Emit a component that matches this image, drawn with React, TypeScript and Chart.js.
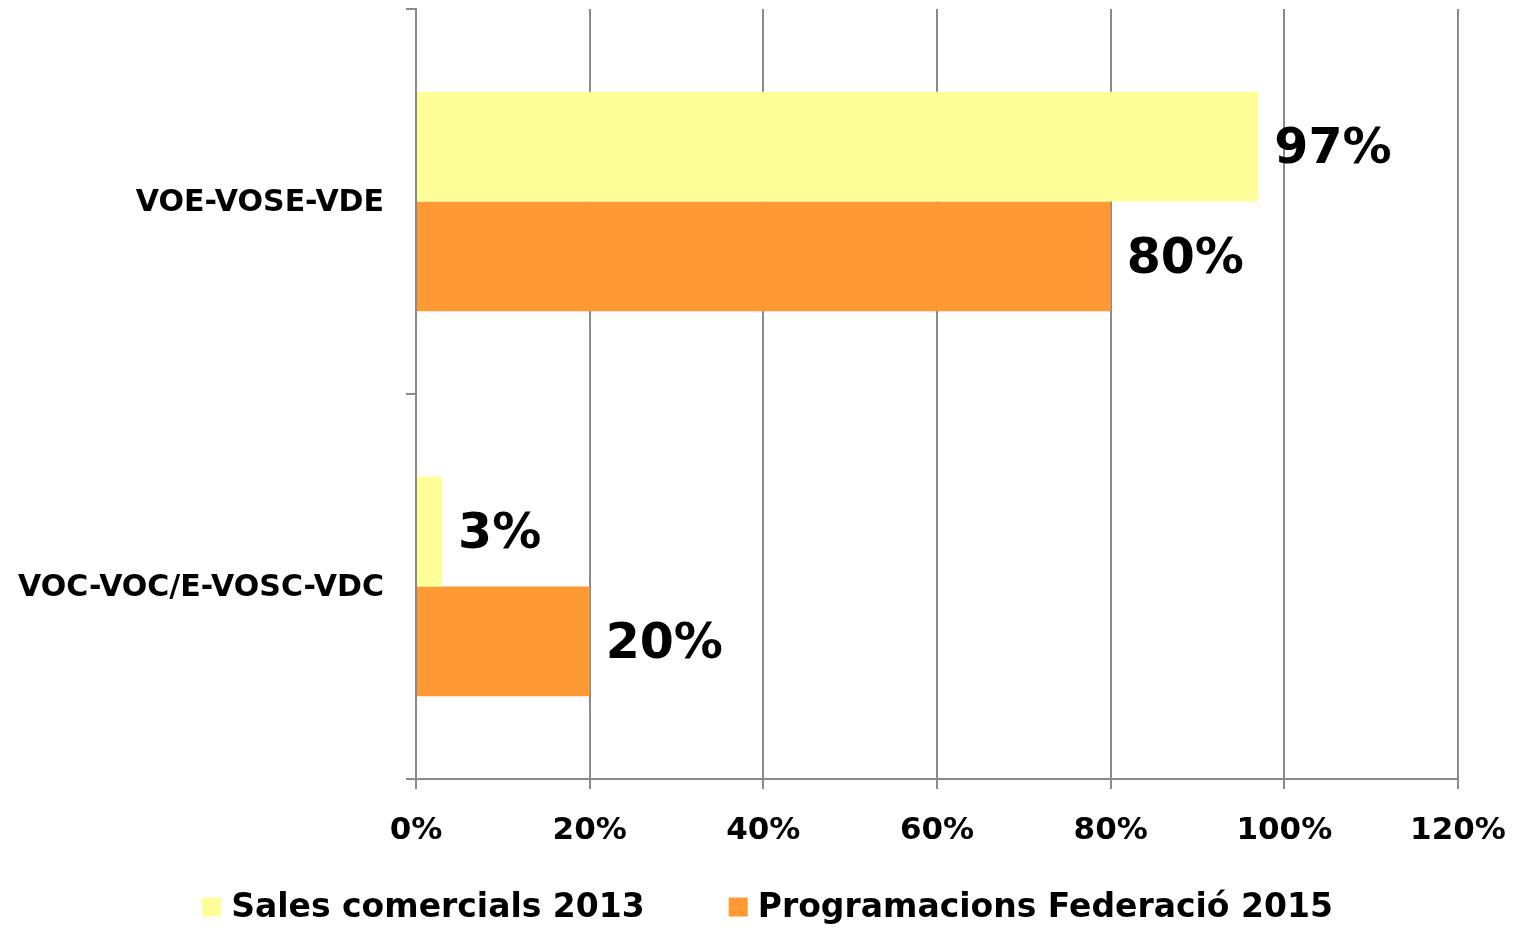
import React, { useEffect, useRef } from 'react';
import { Chart, registerables } from 'chart.js';

Chart.register(...registerables);

const categories = ['VOE-VOSE-VDE', 'VOC-VOC/E-VOSC-VDC'];
const seriesNames = ['Sales comercials 2013', 'Programacions Federació 2015'];
const sales2013 = [97, 3];
const federacio2015 = [80, 20];
const seriesColors = ['#FFFF99', '#FF9933'];
const xMin = 0;
const xMax = 120;
const xStep = 20;

const FONT = '"DejaVu Sans", Verdana, sans-serif';
const GRID = '#8a8a8a';

const dataLabels = {
  id: 'dataLabels',
  afterDatasetsDraw(chart: any) {
    const ctx = chart.ctx;
    ctx.save();
    ctx.font = `bold 49px ${FONT}`;
    ctx.fillStyle = '#000';
    ctx.textAlign = 'left';
    ctx.textBaseline = 'middle';
    chart.data.datasets.forEach((ds: any, i: number) => {
      const meta = chart.getDatasetMeta(i);
      meta.data.forEach((el: any, j: number) => {
        ctx.fillText(ds.data[j] + '%', el.x + 16, el.y + 4);
      });
    });
    ctx.restore();
  },
};

const customLegend = {
  id: 'customLegend',
  afterDraw(chart: any) {
    const ctx = chart.ctx;
    ctx.save();
    ctx.font = `bold 33px ${FONT}`;
    ctx.textBaseline = 'middle';
    ctx.textAlign = 'left';
    const box = 19;
    const gapText = 10;
    const gapItems = 84;
    const items = chart.data.datasets.map((ds: any) => ({
      label: ds.label,
      color: ds.backgroundColor,
      w: ctx.measureText(ds.label).width,
    }));
    let total = 0;
    items.forEach((it: any, i: number) => {
      total += box + gapText + it.w + (i < items.length - 1 ? gapItems : 0);
    });
    let x = chart.width / 2 + 11 - total / 2;
    const y = 907;
    items.forEach((it: any) => {
      ctx.fillStyle = it.color;
      ctx.fillRect(x, y - box / 2, box, box);
      ctx.fillStyle = '#000';
      ctx.fillText(it.label, x + box + gapText, y + 1);
      x += box + gapText + it.w + gapItems;
    });
    ctx.restore();
  },
};

const zeroPadding = (scale: any) => {
  scale.paddingTop = 0;
  scale.paddingBottom = 0;
  scale.paddingLeft = 0;
  scale.paddingRight = 0;
};

export default function App() {
  const ref = useRef<HTMLCanvasElement>(null);
  useEffect(() => {
    if (!ref.current) return;
    const chart = new Chart(ref.current, {
      type: 'bar',
      data: {
        labels: categories,
        datasets: [
          { label: seriesNames[0], data: sales2013, backgroundColor: seriesColors[0], borderWidth: 0 },
          { label: seriesNames[1], data: federacio2015, backgroundColor: seriesColors[1], borderWidth: 0 },
        ],
      },
      options: {
        indexAxis: 'y',
        responsive: false,
        animation: false,
        layout: { padding: { top: 9, right: 55, left: 0, bottom: 60 } },
        datasets: { bar: { categoryPercentage: 0.57, barPercentage: 1 } },
        plugins: {
          legend: { display: false },
          tooltip: { enabled: false },
        },
        scales: {
          x: {
            min: xMin,
            max: xMax,
            ticks: {
              stepSize: xStep,
              callback: (v: any) => v + '%',
              font: { family: FONT, size: 31, weight: 'bold' },
              color: '#000',
              padding: 23,
              maxRotation: 0,
            },
            grid: { color: GRID, lineWidth: 2, tickLength: 10, drawOnChartArea: true },
            border: { color: GRID, width: 2 },
            afterFit: (scale: any) => { scale.height = 928 - 60 - 779; zeroPadding(scale); },
          },
          y: {
            ticks: {
              font: { family: FONT, size: 30, weight: 'bold' },
              color: '#000',
              padding: 22,
              labelOffset: 2,
            },
            grid: { color: GRID, lineWidth: 2, tickLength: 10, drawOnChartArea: false, offset: true },
            border: { color: GRID, width: 2 },
            afterFit: (scale: any) => { scale.width = 416; zeroPadding(scale); },
          },
        },
      },
      plugins: [dataLabels, customLegend],
    });
    return () => chart.destroy();
  }, []);
  return (
    <div style={{ position: 'absolute', top: 0, left: 0, width: 1513, height: 928, background: '#fff' }}>
      <canvas ref={ref} width={1513} height={928} style={{ display: 'block' }} />
    </div>
  );
}
